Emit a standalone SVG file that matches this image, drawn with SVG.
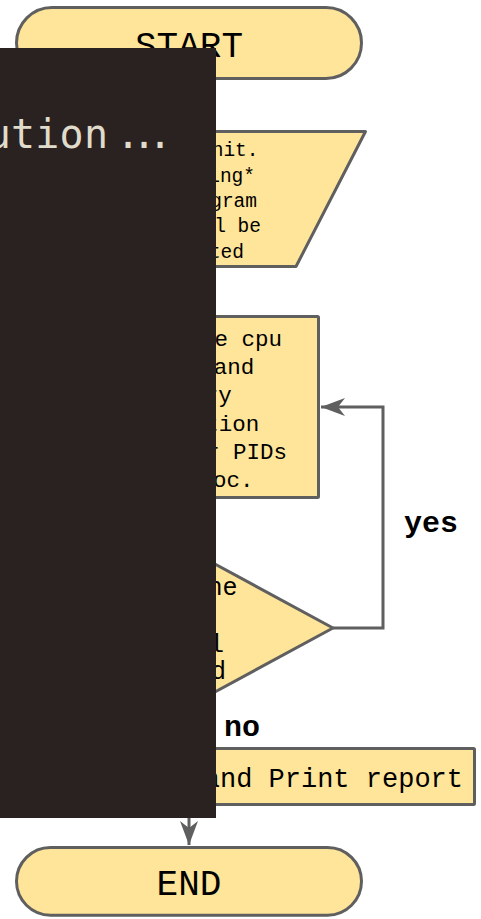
<svg xmlns="http://www.w3.org/2000/svg" width="481" height="919" viewBox="0 0 481 919">
<style>
.shape{fill:#ffe599;stroke:#5f5f5f;stroke-width:3;stroke-linejoin:round}
.mono{font-family:"Courier New","Liberation Mono",monospace;fill:#000}
.lbl{font-family:"Courier New","Liberation Mono",monospace;font-weight:bold;font-size:30px;fill:#000}
.conn{fill:none;stroke:#5f5f5f;stroke-width:3}
</style>
<defs>
<marker id="arr" markerUnits="userSpaceOnUse" markerWidth="26" markerHeight="20" viewBox="0 0 26 20" refX="25" refY="10" orient="auto">
<path d="M1,1 L25,10 L1,19 L8,10 Z" fill="#5f5f5f"/>
</marker>
</defs>
<rect width="481" height="919" fill="#ffffff"/>

<g id="start">
<rect class="shape" x="16.5" y="7.5" width="345" height="71" rx="35.5"/>
<text class="mono" x="189" y="57" font-size="36" text-anchor="middle">START</text>
</g>

<g id="input">
<polygon class="shape" points="82,131.5 365.5,131.5 296,266.5 12.5,266.5"/>
<g class="mono" font-size="19.5" text-anchor="end">
<text x="258.5" y="156">init.</text>
<text x="255" y="181.5">ing*</text>
<text x="257" y="206.5">gram</text>
<text x="261" y="232">l be</text>
<text x="244" y="257.5">ted</text>
</g>
</g>

<g id="process">
<rect class="shape" x="59.5" y="316.5" width="259" height="181" rx="1"/>
<g class="mono" font-size="22.5" text-anchor="end">
<text x="282" y="346">e cpu</text>
<text x="254.3" y="374.2">and</text>
<text x="231.8" y="402.4">ry</text>
<text x="259.2" y="430.6">tion</text>
<text x="287" y="458.8">r PIDs</text>
<text x="253.5" y="487">oc.</text>
</g>
</g>

<g id="decision">
<polygon class="shape" points="189,550 333,628 189,706 45,628"/>
<g class="mono" font-size="25" text-anchor="end">
<text x="237.5" y="595">ne</text>
<text x="224" y="652">l</text>
<text x="226" y="679">d</text>
</g>
</g>

<g id="report">
<rect class="shape" x="10" y="748.5" width="464.5" height="56" rx="1"/>
<text class="mono" x="463" y="787.3" font-size="27" text-anchor="end">and Print report</text>
</g>

<g id="end">
<rect class="shape" x="16.5" y="847.5" width="345" height="67.7" rx="34"/>
<text class="mono" x="189" y="895" font-size="36" text-anchor="middle">END</text>
</g>

<g id="connectors">
<path class="conn" d="M333,628 H383 V407 H321" marker-end="url(#arr)"/>
<path class="conn" d="M189,806 V845" marker-end="url(#arr)"/>
<text class="lbl" x="404" y="532">yes</text>
<text class="lbl" x="224" y="736">no</text>
</g>

<g id="overlay">
<rect x="0" y="48" width="216" height="770" fill="#2a2221"/>
<text font-family="DejaVu Sans Mono, monospace" font-size="40" fill="#e0dccb" x="-13.3 11 35.3 59.6 84 108 116 132 148" y="148">ution ...</text>
</g>
</svg>
